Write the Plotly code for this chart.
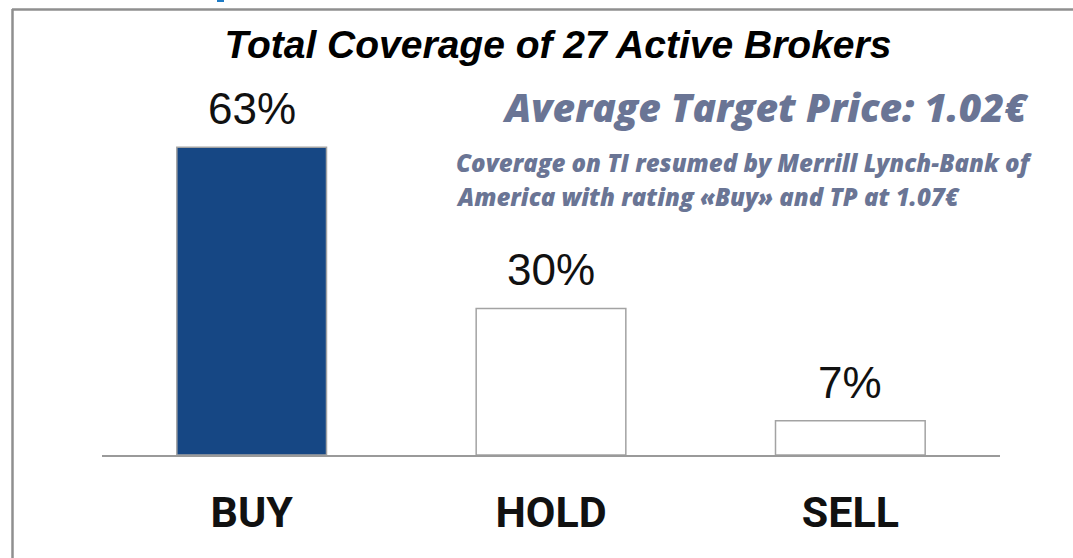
import plotly.graph_objects as go

# ---- data ----
categories = ["BUY", "HOLD", "SELL"]
shares = [63, 30, 7]
value_labels = ["63%", "30%", "7%"]
bar_colors = ["#164784", "#ffffff", "#ffffff"]

title_text = "Total Coverage of 27 Active Brokers"
headline_text = "Average Target Price: 1.02€"
note_lines = ["Coverage on TI resumed by Merrill Lynch-Bank of",
              "America with rating «Buy» and TP at 1.07€"]

W, H = 1073, 558
L, R, T, B = 102, 73, 113, 103
PW, PH = W - L - R, H - T - B


def px(x):
    return (x - L) / PW


def py(y):
    return (H - B - y) / PH


SLATE = "#6a7595"

fig = go.Figure()
fig.add_trace(go.Bar(
    x=categories, y=shares,
    marker=dict(color=bar_colors, line=dict(color="#a3a3a3", width=1.5)),
    width=0.5, hoverinfo="skip",
))

annotations = []
for c, v, t in zip(categories, shares, value_labels):
    annotations.append(dict(
        x=c, y=v, xref="x", yref="y", text=t, showarrow=False,
        yanchor="bottom", yshift=12,
        font=dict(family="Liberation Sans, Arial", size=44, color="#111111"),
    ))

annotations.append(dict(
    x=px(1031), y=py(106), xref="paper", yref="paper", text=headline_text,
    showarrow=False, xanchor="right", yanchor="middle",
    font=dict(family="Open Sans, Roboto", size=39, color=SLATE,
              weight=800, style="italic"),
))
for i, line in enumerate(note_lines):
    annotations.append(dict(
        x=px(454), y=py(162 + 34 * i), xref="paper", yref="paper", text=line,
        showarrow=False, xanchor="left", yanchor="middle",
        font=dict(family="Open Sans, Roboto", size=24, color=SLATE,
                  weight=800, style="italic"),
    ))

shapes = [
    dict(type="line", xref="paper", yref="paper", x0=px(12), x1=px(1073),
         y0=py(9.5), y1=py(9.5), line=dict(color="#8f8f8f", width=2.5)),
    dict(type="line", xref="paper", yref="paper", x0=px(12.5), x1=px(12.5),
         y0=py(9), y1=py(560), line=dict(color="#8f8f8f", width=2.5)),
    dict(type="rect", xref="paper", yref="paper", x0=px(217), x1=px(224),
         y0=py(0), y1=py(2), line=dict(width=0), fillcolor="#1f7cc6"),
]

fig.update_layout(
    width=W, height=H,
    margin=dict(l=L, r=R, t=T, b=B),
    paper_bgcolor="white", plot_bgcolor="white",
    showlegend=False,
    title=dict(text=title_text, x=558 / W, xanchor="center", xref="container",
               y=1 - 44 / H, yanchor="middle", yref="container", automargin=False,
               font=dict(family="Liberation Sans, Arial", size=39, color="#000000",
                         weight="bold", style="italic")),
    xaxis=dict(range=[-0.5, 2.5], showline=True, linecolor="#9a9a9a", linewidth=1.5,
               showgrid=False, zeroline=False, ticks="", ticklabelstandoff=19,
               automargin=False,
               tickfont=dict(family="Roboto, Liberation Sans", size=43, color="#111111",
                             weight="bold")),
    yaxis=dict(range=[0, 70], visible=False, showgrid=False, zeroline=False,
               automargin=False),
    annotations=annotations,
    shapes=shapes,
)

fig.write_html("out.html", config={"displayModeBar": False})
